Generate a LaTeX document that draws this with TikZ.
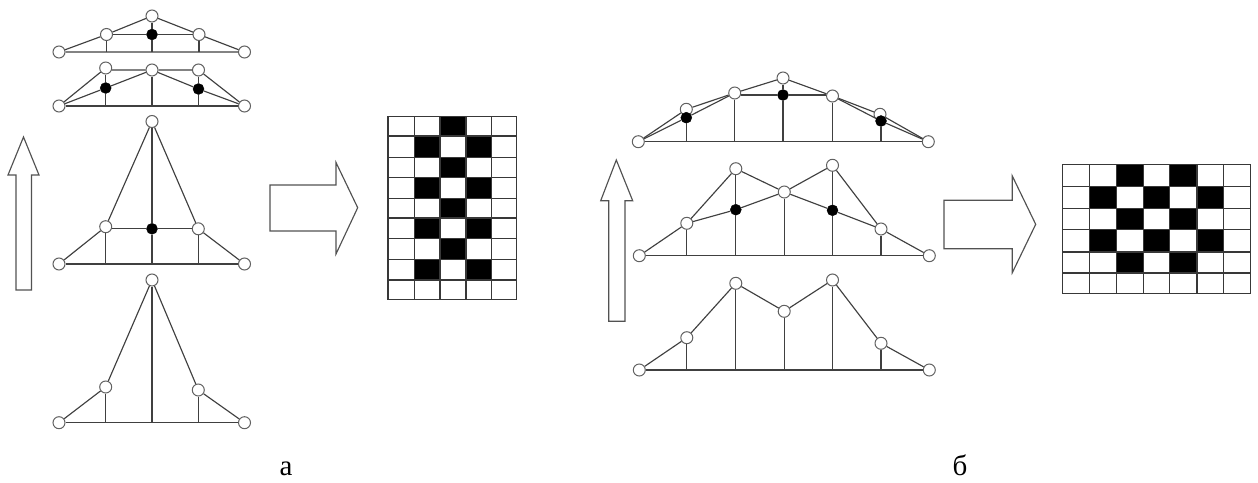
\documentclass[tikz,border=0pt]{standalone}
\usepackage{fontspec}
\setmainfont{Liberation Serif}
\tikzset{
  wn/.style={circle,draw=black!62,fill=white,line width=1pt,inner sep=0pt,minimum size=12pt},
  bn/.style={circle,draw=black,fill=black,inner sep=0pt,minimum size=11pt},
  ln/.style={draw=black!75,line width=1.15pt},
  thin grid/.style={draw=black!78,line width=1.1pt},
  blockarrow/.style={draw=black!68,fill=white,line width=1.15pt,line join=miter},
  lab/.style={font=\fontsize{29}{29}\selectfont,inner sep=0pt,anchor=base}
}
\begin{document}
\begin{tikzpicture}[x=1pt,y=-1pt]
\useasboundingbox (0,0) rectangle (1258,482);
% block arrows
\draw[blockarrow] (23.5,137) -- (39,175) -- (31.5,175) -- (31.5,290) -- (16,290) -- (16,175) -- (8,175) -- cycle;
\draw[blockarrow] (270,185) -- (336,185) -- (336,162.5) -- (357.7,207.7) -- (336,254) -- (336,231) -- (270,231) -- cycle;
\draw[blockarrow] (616.3,160) -- (632.7,200.7) -- (625,200.7) -- (625,321.3) -- (608.7,321.3) -- (608.7,200.7) -- (600.7,200.7) -- cycle;
\draw[blockarrow] (944,200.3) -- (1012.3,200.3) -- (1012.3,176) -- (1035.7,224.3) -- (1012.3,272.7) -- (1012.3,248.7) -- (944,248.7) -- cycle;
% grid a
\fill (440,116.3) rectangle (466,136);
\fill (414.3,136) rectangle (440,157.3);
\fill (466,136) rectangle (491.7,157.3);
\fill (440,157.3) rectangle (466,177.3);
\fill (414.3,177.3) rectangle (440,198.3);
\fill (466,177.3) rectangle (491.7,198.3);
\fill (440,198.3) rectangle (466,218);
\fill (414.3,218) rectangle (440,238.7);
\fill (466,218) rectangle (491.7,238.7);
\fill (440,238.7) rectangle (466,259.7);
\fill (414.3,259.7) rectangle (440,280);
\fill (466,259.7) rectangle (491.7,280);
\foreach \x in {388,414.3,440,466,491.7,516.7} \draw[thin grid] (\x,116.3) -- (\x,299.7);
\foreach \y in {116.3,136,157.3,177.3,198.3,218,238.7,259.7,280,299.7} \draw[thin grid] (388,\y) -- (516.7,\y);
% grid b
\fill (1116.7,164.3) rectangle (1143.3,186.7);
\fill (1169.3,164.3) rectangle (1197,186.7);
\fill (1089.3,186.7) rectangle (1116.7,208.7);
\fill (1143.3,186.7) rectangle (1169.3,208.7);
\fill (1197,186.7) rectangle (1223.7,208.7);
\fill (1116.7,208.7) rectangle (1143.3,229.7);
\fill (1169.3,208.7) rectangle (1197,229.7);
\fill (1089.3,229.7) rectangle (1116.7,252);
\fill (1143.3,229.7) rectangle (1169.3,252);
\fill (1197,229.7) rectangle (1223.7,252);
\fill (1116.7,252) rectangle (1143.3,273);
\fill (1169.3,252) rectangle (1197,273);
\foreach \x in {1062.7,1089.3,1116.7,1143.3,1169.3,1197,1223.7,1250.7} \draw[thin grid] (\x,164.3) -- (\x,293.7);
\foreach \y in {164.3,186.7,208.7,229.7,252,273,293.7} \draw[thin grid] (1062.7,\y) -- (1250.7,\y);
% figure a1 (top)
\node[wn] (a1l) at (59,52) {};
\node[wn] (a1p) at (106.5,34.5) {};
\node[wn] (a1t) at (152,16) {};
\node[wn] (a1q) at (199,34.5) {};
\node[wn] (a1r) at (244.5,52) {};
\node[bn] (a1b) at (152,34.5) {};
\coordinate (a1x) at (106.5,52);
\coordinate (a1y) at (152,52);
\coordinate (a1z) at (199,52);
\draw[ln] (a1l) -- (a1p) -- (a1t) -- (a1q) -- (a1r) -- (a1l);
\draw[ln] (a1p) -- (a1b) -- (a1q);
\draw[ln] (a1p) -- (a1x);
\draw[ln] (a1t) -- (a1b) -- (a1y);
\draw[ln] (a1q) -- (a1z);
% figure a2
\node[wn] (a2l) at (59,106) {};
\node[wn] (a2p) at (105.7,68) {};
\node[wn] (a2t) at (152,70) {};
\node[wn] (a2q) at (198.5,70) {};
\node[wn] (a2r) at (244.5,106) {};
\node[bn] (a2u) at (105.7,88) {};
\node[bn] (a2v) at (198.5,89) {};
\coordinate (a2x) at (105.7,106);
\coordinate (a2y) at (152,106);
\coordinate (a2z) at (198.5,106);
\draw[ln] (a2l) -- (a2r);
\draw[ln] (a2l) -- (a2p);
\draw[ln] (a2p.east |- a2t) -- (a2t) -- (a2q) -- (a2r);
\draw[ln] (a2l) -- (a2u) -- (a2t) -- (a2v) -- (a2r);
\draw[ln] (a2p) -- (a2u) -- (a2x);
\draw[ln] (a2t) -- (a2y);
\draw[ln] (a2q) -- (a2v) -- (a2z);
% figure a3
\node[wn] (a3l) at (59,264) {};
\node[wn] (a3p) at (105.7,226.7) {};
\node[wn] (a3t) at (152,121.5) {};
\node[wn] (a3q) at (198.3,228.8) {};
\node[wn] (a3r) at (244.5,264) {};
\node[bn] (a3b) at (152,228.8) {};
\coordinate (a3x) at (105.7,264);
\coordinate (a3y) at (152,264);
\coordinate (a3z) at (198.3,264);
\draw[ln] (a3l) -- (a3r);
\draw[ln] (a3l) -- (a3p) -- (a3t) -- (a3q) -- (a3r);
\draw[ln] (a3p.east |- a3b) -- (a3b) -- (a3q);
\draw[ln] (a3p) -- (a3x);
\draw[ln] (a3t) -- (a3b) -- (a3y);
\draw[ln] (a3q) -- (a3z);
% figure a4
\node[wn] (a4l) at (59,422.7) {};
\node[wn] (a4p) at (105.7,387) {};
\node[wn] (a4t) at (152,280) {};
\node[wn] (a4q) at (198.3,390) {};
\node[wn] (a4r) at (244.5,422.7) {};
\coordinate (a4x) at (105.7,422.7);
\coordinate (a4y) at (152,422.7);
\coordinate (a4z) at (198.3,422.7);
\draw[ln] (a4l) -- (a4r);
\draw[ln] (a4l) -- (a4p) -- (a4t) -- (a4q) -- (a4r);
\draw[ln] (a4p) -- (a4x);
\draw[ln] (a4t) -- (a4y);
\draw[ln] (a4q) -- (a4z);
% figure b1 (top)
\node[wn] (b1l) at (638.3,141.7) {};
\node[wn] (b1a) at (686.3,109.3) {};
\node[wn] (b1p) at (734.7,93) {};
\node[wn] (b1t) at (783,78) {};
\node[wn] (b1q) at (832.5,96) {};
\node[wn] (b1c) at (880,114.3) {};
\node[wn] (b1r) at (928.3,141.7) {};
\node[bn] (b1u) at (686.3,117.7) {};
\node[bn] (b1m) at (783,95) {};
\node[bn] (b1v) at (881,121) {};
\coordinate (b1w) at (686.3,141.7);
\coordinate (b1x) at (734.7,141.7);
\coordinate (b1y) at (783,141.7);
\coordinate (b1z) at (832.5,141.7);
\coordinate (b1s) at (881,141.7);
\draw[ln] (b1l) -- (b1r);
\draw[ln] (b1l) -- (b1a) -- (b1p) -- (b1t) -- (b1q) -- (b1c) -- (b1r);
\draw[ln] (b1l) -- (b1u) -- (b1p);
\draw[ln] (b1p.east |- b1m) -- (b1m) -- (b1q.west |- b1m);
\draw[ln] (b1q) -- (b1v) -- (b1r);
\draw[ln] (b1u) -- (b1w);
\draw[ln] (b1p) -- (b1x);
\draw[ln] (b1t) -- (b1m) -- (b1y);
\draw[ln] (b1q) -- (b1z);
\draw[ln] (b1v) -- (b1s);
% figure b2
\node[wn] (b2l) at (639.3,255.7) {};
\node[wn] (b2a) at (686.8,223.3) {};
\node[wn] (b2p) at (735.8,168.7) {};
\node[wn] (b2t) at (784.3,192) {};
\node[wn] (b2q) at (832.5,165.3) {};
\node[wn] (b2c) at (881,229) {};
\node[wn] (b2r) at (929.3,255.7) {};
\node[bn] (b2u) at (735.8,209.7) {};
\node[bn] (b2v) at (832.5,210.3) {};
\coordinate (b2w) at (686.8,255.7);
\coordinate (b2x) at (735.8,255.7);
\coordinate (b2y) at (784.3,255.7);
\coordinate (b2z) at (832.5,255.7);
\coordinate (b2s) at (881,255.7);
\draw[ln] (b2l) -- (b2r);
\draw[ln] (b2l) -- (b2a) -- (b2p) -- (b2t) -- (b2q) -- (b2c) -- (b2r);
\draw[ln] (b2a) -- (b2u) -- (b2t) -- (b2v) -- (b2c);
\draw[ln] (b2a) -- (b2w);
\draw[ln] (b2p) -- (b2u) -- (b2x);
\draw[ln] (b2t) -- (b2y);
\draw[ln] (b2q) -- (b2v) -- (b2z);
\draw[ln] (b2c) -- (b2s);
% figure b3
\node[wn] (b3l) at (639.3,370) {};
\node[wn] (b3a) at (686.8,337.7) {};
\node[wn] (b3p) at (735.8,283.3) {};
\node[wn] (b3t) at (784.2,311.3) {};
\node[wn] (b3q) at (832.5,280) {};
\node[wn] (b3c) at (881,343.3) {};
\node[wn] (b3r) at (929.3,370) {};
\coordinate (b3w) at (686.8,370);
\coordinate (b3x) at (735.8,370);
\coordinate (b3y) at (784.2,370);
\coordinate (b3z) at (832.5,370);
\coordinate (b3s) at (881,370);
\draw[ln] (b3l) -- (b3r);
\draw[ln] (b3l) -- (b3a) -- (b3p) -- (b3t) -- (b3q) -- (b3c) -- (b3r);
\draw[ln] (b3a) -- (b3w);
\draw[ln] (b3p) -- (b3x);
\draw[ln] (b3t) -- (b3y);
\draw[ln] (b3q) -- (b3z);
\draw[ln] (b3c) -- (b3s);
% labels
\node[lab] (la) at (286,475.5) {а};
\node[lab] (lb) at (960,475.5) {б};
\end{tikzpicture}
\end{document}
